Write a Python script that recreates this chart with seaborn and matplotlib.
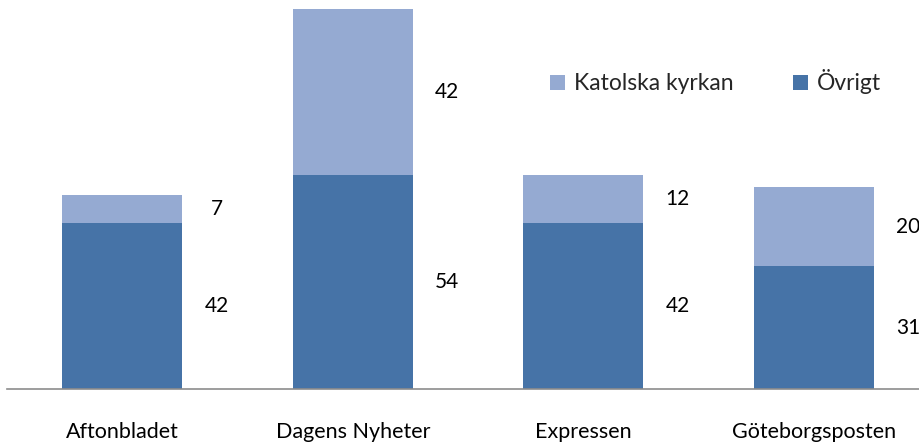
import matplotlib
matplotlib.use("Agg")
import matplotlib.pyplot as plt
from matplotlib.patches import Patch
import seaborn as sns
import pandas as pd

categories = ["Aftonbladet", "Dagens Nyheter", "Expressen", "Göteborgsposten"]
ovrigt = [42, 54, 42, 31]
katolska = [7, 42, 12, 20]
series_names = ["Katolska kyrkan", "Övrigt"]

dark = "#4673A7"
light = "#95AAD2"

sns.set_theme(style="white")
plt.rcParams["font.family"] = ["Lato", "DejaVu Sans"]

W, H = 920, 445
fig = plt.figure(figsize=(W / 100, H / 100), dpi=100)
ax = fig.add_axes([7 / W, (H - 389) / H, 922 / W, 389 / H])

df = pd.DataFrame({"cat": categories, "ovrigt": ovrigt, "katolska": katolska})
df["total"] = df["ovrigt"] + df["katolska"]

sns.barplot(data=df, x="cat", y="total", color=light, saturation=1, width=0.52,
            linewidth=0, ax=ax)
sns.barplot(data=df, x="cat", y="ovrigt", color=dark, saturation=1, width=0.52,
            linewidth=0, ax=ax)

ax.set_xlim(-0.5, 3.5)
ax.set_ylim(0, 98.3)
for i, (o, k) in enumerate(zip(ovrigt, katolska)):
    ax.text(i + 0.41, o / 2, str(o), ha="center", va="center", fontsize=15, color="black")
    ax.text(i + 0.41, o + k / 2, str(k), ha="center", va="center", fontsize=15, color="black")

for s in ["top", "right", "left"]:
    ax.spines[s].set_visible(False)
ax.spines["bottom"].set_color("#8c8c8c")
ax.spines["bottom"].set_linewidth(1.2)
ax.set_yticks([])
ax.set_xlabel("")
ax.set_ylabel("")
ax.tick_params(axis="x", length=0, pad=24, labelsize=15.5, labelcolor="black")

handles = [Patch(facecolor=light, edgecolor="none"), Patch(facecolor=dark, edgecolor="none")]
fig.legend(handles, series_names, loc="center left", bbox_to_anchor=(550 / W, 1 - 82 / H),
           ncol=2, frameon=False, fontsize=16.5, handlelength=0.65, handleheight=0.65,
           handletextpad=0.4, columnspacing=2.6, borderaxespad=0, borderpad=0)

fig.savefig("out.png", dpi=100)
